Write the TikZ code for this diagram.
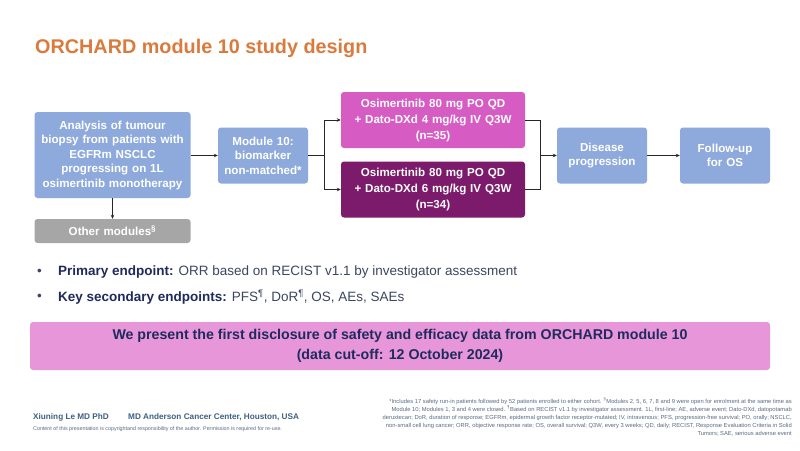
\documentclass[tikz,border=0pt]{standalone}
\usepackage{fontspec}
\setmainfont{Liberation Sans}
\usetikzlibrary{arrows.meta}
\definecolor{titleor}{HTML}{DA7A3C}
\definecolor{boxblue}{HTML}{8EA9DB}
\definecolor{boxpink}{HTML}{D65CC4}
\definecolor{boxpurple}{HTML}{7C1A6B}
\definecolor{boxgrey}{HTML}{A6A6A6}
\definecolor{banner}{HTML}{E896DA}
\definecolor{navy}{HTML}{1F2B5C}
\definecolor{bodytxt}{HTML}{3C4660}
\definecolor{footc}{HTML}{3F6082}
\definecolor{notec}{HTML}{5A6A80}
\tikzset{
  flowbox/.style={rectangle, rounded corners=3pt, draw=none, text=white,
    font=\fontsize{11.6}{14.5}\selectfont\bfseries, align=center, inner sep=0pt},
  conn/.style={draw=black!85, line width=0.7pt},
  arr/.style={conn, -{Stealth[length=4pt,width=3.5pt]}},
}
\begin{document}
\begin{tikzpicture}[x=1pt,y=-1pt]
\useasboundingbox (0,0) rectangle (800,450);
\fill[white] (0,0) rectangle (800,450);

% title
\node[anchor=west, text=titleor, font=\fontsize{19.8}{24}\selectfont\bfseries, inner sep=0pt] (title) at (35,48) {ORCHARD module 10 study design};

% boxes
\node[flowbox, fill=boxblue, minimum width=156pt, minimum height=86pt, text width=154pt] (analysis) at (112.5,155)
  {Analysis of tumour\\biopsy from patients with\\EGFRm NSCLC\\progressing on 1L\\osimertinib monotherapy};
\node[flowbox, fill=boxgrey, minimum width=156pt, minimum height=24pt, text width=150pt] (other) at (112.5,231)
  {Other modules\textsuperscript{\S}};
\node[flowbox, fill=boxblue, minimum width=90pt, minimum height=56pt, text width=88pt] (mod10) at (263,155.5)
  {Module 10:\\biomarker\\non-matched*};
\node[flowbox, fill=boxpink, minimum width=184pt, minimum height=56pt, text width=180pt,
  font=\fontsize{11.6}{16}\selectfont\bfseries] (arm4) at (433,120)
  {Osimertinib 80 mg PO QD\\+ Dato-DXd 4 mg/kg IV Q3W\\(n=35)};
\node[flowbox, fill=boxpurple, minimum width=184pt, minimum height=56pt, text width=180pt,
  font=\fontsize{11.6}{16}\selectfont\bfseries] (arm6) at (433,189.5)
  {Osimertinib 80 mg PO QD\\+ Dato-DXd 6 mg/kg IV Q3W\\(n=34)};
\node[flowbox, fill=boxblue, minimum width=90pt, minimum height=56pt, text width=88pt] (prog) at (602,155.5)
  {Disease\\progression};
\node[flowbox, fill=boxblue, minimum width=90pt, minimum height=56pt, text width=88pt] (fu) at (725,155.5)
  {Follow-up\\for OS};

% connectors
\coordinate (split) at (324,155.5);
\coordinate (merge) at (540,155.5);
\draw[arr] (analysis.south) -- (other.north);
\draw[arr] (analysis.east |- mod10.west) -- (mod10.west);
\draw[conn] (mod10.east) -- (split);
\draw[arr] (split) |- (arm4.west);
\draw[arr] (split) |- (arm6.west);
\draw[conn] (arm4.east) -| (merge);
\draw[conn] (arm6.east) -| (merge);
\draw[arr] (merge) -- (prog.west);
\draw[arr] (prog.east) -- (fu.west);

% bullets
\node[anchor=west, inner sep=0pt, text=bodytxt, font=\fontsize{13.5}{16}\selectfont] (b1dot) at (37,272) {•};
\node[anchor=west, inner sep=0pt, text=bodytxt, font=\fontsize{13.5}{16}\selectfont] (b1) at (58,272)
  {\textcolor{navy}{\bfseries Primary endpoint:} ORR based on RECIST v1.1 by investigator assessment};
\node[anchor=west, inner sep=0pt, text=bodytxt, font=\fontsize{13.5}{16}\selectfont] (b2dot) at (37,297) {•};
\node[anchor=west, inner sep=0pt, text=bodytxt, font=\fontsize{13.5}{16}\selectfont] (b2) at (58,297)
  {\textcolor{navy}{\bfseries Key secondary endpoints:} PFS\textsuperscript{¶}, DoR\textsuperscript{¶}, OS, AEs, SAEs};

% banner
\node[rectangle, rounded corners=3pt, fill=banner, minimum width=740pt, minimum height=48pt, inner sep=0pt,
  text=navy, align=center, font=\fontsize{14.2}{20}\selectfont\bfseries] (bann) at (400,346)
  {We present the first disclosure of safety and efficacy data from ORCHARD module 10\\(data cut-off: 12 October 2024)};

% footer
\node[anchor=west, inner sep=0pt, text=footc, font=\fontsize{8.2}{9}\selectfont\bfseries] (author) at (33,417) {Xiuning Le MD PhD};
\node[anchor=west, inner sep=0pt, text=footc, font=\fontsize{8.2}{9}\selectfont\bfseries] (inst) at (128,417) {MD Anderson Cancer Center, Houston, USA};
\node[anchor=west, inner sep=0pt, text=notec, font=\fontsize{5.35}{6}\selectfont] (copy) at (33,429) {Content of this presentation is copyrightand responsibility of the author. Permission is required for re-use.};
\node[anchor=north east, inner sep=0pt, text=notec, align=right, font=\fontsize{5.8}{8.1}\selectfont] (notes) at (792,397.5)
  {*Includes 17 safety run-in patients followed by 52 patients enrolled to either cohort. \textsuperscript{\S}Modules 2, 5, 6, 7, 8 and 9 were open for enrolment at the same time as\\
   Module 10; Modules 1, 3 and 4 were closed. \textsuperscript{¶}Based on RECIST v1.1 by investigator assessment. 1L, first-line; AE, adverse event; Dato-DXd, datopotamab\\
   deruxtecan; DoR, duration of response; EGFRm, epidermal growth factor receptor-mutated; IV, intravenous; PFS, progression-free survival; PO, orally; NSCLC,\\
   non-small cell lung cancer; ORR, objective response rate; OS, overall survival; Q3W, every 3 weeks; QD, daily; RECIST, Response Evaluation Criteria in Solid\\
   Tumors; SAE, serious adverse event};
\end{tikzpicture}
\end{document}
